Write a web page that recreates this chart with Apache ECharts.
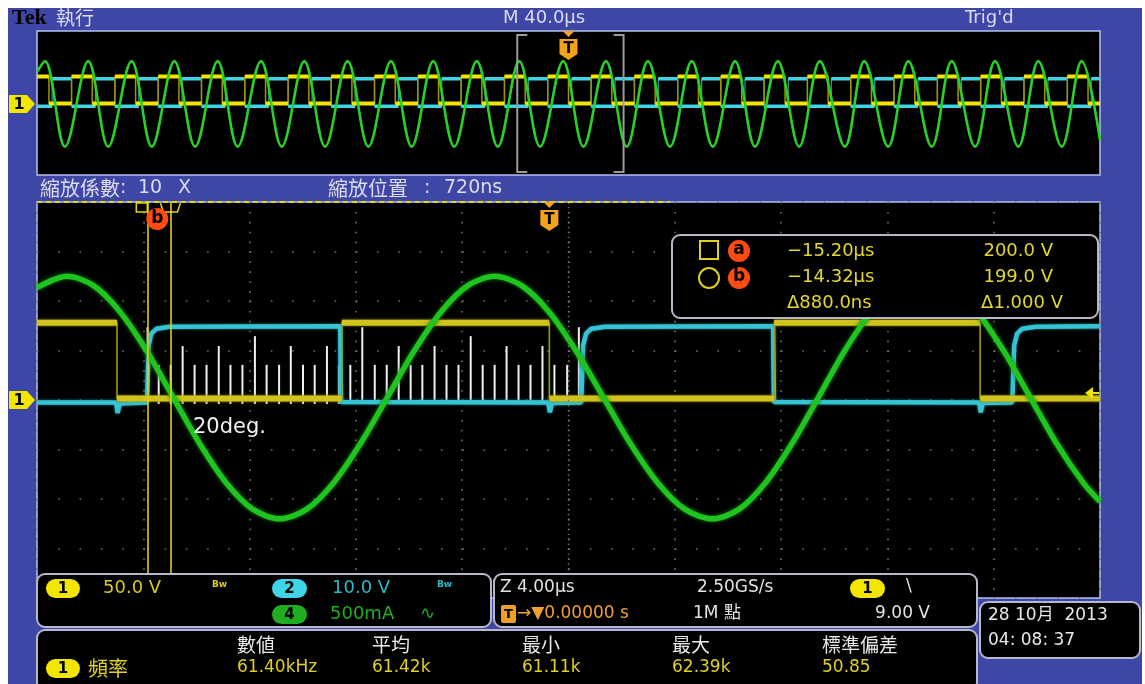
<!DOCTYPE html>
<html>
<head>
<meta charset="utf-8">
<title>Tek 執行</title>
<script src="https://cdn.jsdelivr.net/npm/echarts@6.0.0/dist/echarts.min.js"></script>
<style>
  html, body { margin: 0; padding: 0; background: #fff; }
  #main { width: 1145px; height: 684px; }
</style>
</head>
<body>
<div id="main"></div>
<script>
// ---- data (times in µs from trigger, levels in divisions, ch1 ground = 0) ----
var ovRange = [-200, 200];          // M 40.0µs/div
var mainRange = [-19.28, 20.72];    // Z 4.00µs/div, zoom position 720ns

var ch1Hi = 1.56, ch1Lo = 0.03;
var ch2Hi = 1.44, ch2Lo = -0.12;

// overview window edges
var ovCh1Fall = [-195.5, -179.2, -162.9, -146.6, -130.3, -114.0, -97.7, -81.5, -65.2, -48.9, -32.6, -16.3, 0,
                 16.3, 32.6, 48.9, 65.2, 81.5, 97.7, 114.0, 130.3, 146.6, 162.9, 179.2, 195.5];
var ovCh1Rise = [-187.0, -170.7, -154.4, -138.1, -121.8, -105.5, -89.3, -73.0, -56.7, -40.4, -24.1, -7.8,
                 8.5, 24.8, 41.1, 57.3, 73.6, 89.9, 106.2, 122.5, 138.8, 155.1, 171.4, 187.7];
var ovCh2Rise = [-194.3, -178.0, -161.7, -145.4, -129.1, -112.8, -96.5, -80.3, -64.0, -47.7, -31.4, -15.1, 1.2,
                 17.5, 33.8, 50.1, 66.4, 82.7, 98.9, 115.2, 131.5, 147.8, 164.1, 180.4, 196.7];
var ovCh2Fall = [-187.0, -170.7, -154.4, -138.1, -121.8, -105.5, -89.3, -73.0, -56.7, -40.4, -24.1, -7.8,
                 8.5, 24.8, 41.1, 57.3, 73.6, 89.9, 106.2, 122.5, 138.8, 155.1, 171.4, 187.7];
var ovGreenPeaks = [-197.0, -180.7, -164.4, -148.3, -132.0, -115.7, -99.4, -83.1, -66.8, -50.9, -34.5, -18.5, -2.0,
                    14.1, 29.9, 46.4, 62.7, 78.8, 94.6, 111.3, 127.9, 144.2, 160.5, 176.8, 193.1];
var ovGreenTroughs = [-189.5, -173.2, -156.8, -140.5, -124.5, -107.9, -91.6, -75.3, -59.0, -43.0, -26.6, -10.7,
                      5.6, 21.9, 38.2, 54.3, 70.2, 86.8, 104.0, 120.3, 136.7, 153.0, 169.3, 185.6];
var ovGreenPeak = 2.44, ovGreenTrough = -2.42;
var ovGreenStart = [-200, 1.82], ovGreenEnd = [200, -2.05];

// zoom window
var ch1Edges = [-16.27, -7.81, 0.0, 8.46, 16.21];   // first edge is falling
var cyanMain = [[-19.28, -0.05], [-16.30, -0.05], [-16.25, -0.26], [-16.16, -0.07], [-15.14, -0.05],
                [-15.08, 1.10], [-14.98, 1.34], [-14.78, 1.44], [-14.30, 1.48], [-7.87, 1.49], [-7.84, -0.04],
                [-0.04, -0.05], [0.02, -0.25], [0.10, -0.06], [1.20, -0.05], [1.27, 1.10], [1.38, 1.34],
                [1.58, 1.44], [2.10, 1.48], [8.42, 1.49], [8.45, -0.04], [16.18, -0.05], [16.23, -0.25],
                [16.31, -0.06], [17.42, -0.05], [17.49, 1.10], [17.60, 1.34], [17.80, 1.44], [18.30, 1.48],
                [20.72, 1.49]];
var greenMain = [[-19.28, 2.27], [-18.15, 2.50], [-17.15, 2.31], [-16.15, 1.78], [-15.15, 0.99], [-14.15, 0.05],
                 [-13.15, -0.89], [-12.15, -1.68], [-11.15, -2.21], [-10.15, -2.40], [-9.14, -2.21],
                 [-8.13, -1.68], [-7.12, -0.89], [-6.10, 0.05], [-5.09, 0.99], [-4.08, 1.78], [-3.07, 2.31],
                 [-2.06, 2.50], [-1.04, 2.31], [-0.01, 1.78], [1.01, 0.99], [2.04, 0.05], [3.06, -0.89],
                 [4.09, -1.68], [5.11, -2.21], [6.13, -2.40], [7.13, -2.21], [8.12, -1.68], [9.12, -0.89],
                 [10.12, 0.05], [11.11, 0.99], [12.11, 1.78], [13.10, 2.31], [14.10, 2.50], [15.10, 2.31],
                 [16.10, 1.78], [17.10, 0.99], [18.10, 0.05], [19.10, -0.89], [20.10, -1.68], [20.72, -2.05]];
var pulseTimes = [-15.12, -14.70, -14.25, -13.80, -13.35, -12.90, -12.44, -12.00, -11.55, -11.08, -10.64, -10.17,
                  -9.73, -9.27, -8.83, -8.37, -7.92, -7.49, -7.04, -6.57, -6.12, -5.67, -5.22, -4.78, -4.32,
                  -3.87, -3.42, -2.96, -2.51, -2.06, -1.61, -1.16, -0.71, -0.26, 0.19, 0.67, 1.11];
var pulseTops = [1.47, 0.71, 0.71, 1.09, 0.71, 0.71, 1.09, 0.71, 0.71, 1.29, 0.71, 0.71, 1.09, 0.71, 0.71, 1.09,
                 0.71, 0.71, 1.47, 0.71, 0.71, 1.09, 0.71, 0.71, 1.09, 0.71, 0.71, 1.29, 0.71, 0.71, 1.09, 0.71,
                 0.71, 1.09, 0.71, 0.71, 1.47];
var pulseBase = -0.08;
var cursorTimes = [-15.13, -14.26];

var FONT = '"DejaVu Sans", "Noto Sans CJK TC", sans-serif';
var CJK = '"Noto Sans CJK TC", "DejaVu Sans", sans-serif';

function byTime(a, b) { return a - b; }

function squareWave(edges, startHigh, hi, lo, t0, t1) {
  var pts = [], high = startHigh;
  pts.push([t0, high ? hi : lo]);
  edges.forEach(function (e) {
    pts.push([e, high ? hi : lo]);
    high = !high;
    pts.push([e, high ? hi : lo]);
  });
  pts.push([t1, high ? hi : lo]);
  return pts;
}
// keep only the flat parts, broken at every edge
function flatParts(pts) {
  var out = [];
  for (var i = 0; i + 1 < pts.length; i += 2) {
    out.push(pts[i], pts[i + 1], [pts[i + 1][0], '-']);
  }
  return out;
}

var ovCh1 = squareWave(ovCh1Fall.concat(ovCh1Rise).sort(byTime), true, ch1Hi, ch1Lo, ovRange[0], ovRange[1]);
var ovCh2 = squareWave(ovCh2Rise.concat(ovCh2Fall).sort(byTime), false, ch2Hi, ch2Lo, ovRange[0], ovRange[1]);
var ovGreen = ovGreenPeaks.map(function (t) { return [t, ovGreenPeak]; })
  .concat(ovGreenTroughs.map(function (t) { return [t, ovGreenTrough]; }))
  .sort(function (a, b) { return a[0] - b[0]; });
ovGreen.unshift(ovGreenStart);
ovGreen.push(ovGreenEnd);
var mainCh1 = squareWave(ch1Edges, true, ch1Hi, ch1Lo, mainRange[0], mainRange[1]);

function trace(name, xi, data, color, width, extra) {
  var s = {
    name: name, type: 'line', xAxisIndex: xi, yAxisIndex: xi === 0 ? 0 : 1,
    data: data, symbol: 'none', silent: true, animation: false,
    lineStyle: { color: color, width: width }
  };
  if (extra) for (var k in extra) s[k] = extra[k];
  return s;
}

var myChart = echarts.init(document.getElementById('main'));
myChart.setOption({
  backgroundColor: '#3e46a6',
  animation: false,
  grid: [
    { left: 37, top: 31, width: 1063, height: 144, show: true, backgroundColor: '#000',
      borderColor: '#b4c2ee', borderWidth: 1.5, outerBoundsMode: 'none' },
    { left: 37, top: 202, width: 1063, height: 396, show: true, backgroundColor: '#000',
      borderColor: '#b4c2ee', borderWidth: 1.5, outerBoundsMode: 'none' }
  ],
  xAxis: [
    { gridIndex: 0, type: 'value', min: ovRange[0], max: ovRange[1], show: false },
    { gridIndex: 1, type: 'value', min: mainRange[0], max: mainRange[1], show: false },
    { gridIndex: 1, type: 'value', min: -5, max: 5, interval: 1,
      axisLine: { show: false }, axisTick: { show: false }, axisLabel: { show: false },
      splitLine: { show: true, lineStyle: { color: '#707070', width: 1.6, type: [1.6, 8.3] } } }
  ],
  yAxis: [
    { gridIndex: 0, type: 'value', min: -4.03, max: 4.15, show: false },
    { gridIndex: 1, type: 'value', min: -4, max: 4, interval: 1,
      axisLine: { show: false }, axisTick: { show: false }, axisLabel: { show: false },
      splitLine: { show: true, lineStyle: { color: '#707070', width: 1.6, type: [1.6, 19.66] } } }
  ],
  series: [
    // overview
    trace('ov ch2 edges', 0, ovCh2, '#2a9aa8', 1.2),
    trace('ov ch2', 0, flatParts(ovCh2), '#3ed6e6', 3.5),
    trace('ov ch1 edges', 0, ovCh1, '#a29400', 1.5),
    trace('ov ch1', 0, flatParts(ovCh1), '#f3e500', 4),
    trace('ov ch4', 0, ovGreen, '#27d127', 2.6, { smooth: 0.36 }),
    // zoom window
    trace('ch2', 1, cyanMain, '#36c4d4', 4.5, { lineStyle: { color: '#36c4d4', width: 4.5, shadowBlur: 3, shadowColor: '#1b7f8a' } }),
    trace('ch1 edges', 1, mainCh1, '#a49c10', 1.6),
    trace('ch1', 1, flatParts(mainCh1), '#d0c31c', 6, { lineStyle: { color: '#d0c31c', width: 6, shadowBlur: 3, shadowColor: '#847a00' } }),
    {
      name: 'pulses', type: 'custom', xAxisIndex: 1, yAxisIndex: 1, silent: true, animation: false,
      data: pulseTimes.map(function (t, i) { return [t, pulseTops[i]]; }),
      renderItem: function (params, api) {
        var p0 = api.coord([api.value(0), pulseBase]);
        var p1 = api.coord([api.value(0), api.value(1)]);
        return { type: 'line', shape: { x1: p0[0], y1: p0[1], x2: p1[0], y2: p1[1] },
                 style: { stroke: '#f0f0f0', lineWidth: 2 } };
      }
    },
    trace('ch4', 1, greenMain, '#1fc41f', 5.5, {
      smooth: 0.3,
      lineStyle: { color: '#1fc41f', width: 5.5, shadowBlur: 4, shadowColor: '#0c7a0c' },
      markLine: {
        silent: true, animation: false, symbol: ['none', 'none'], label: { show: false },
        lineStyle: { color: '#dccf12', width: 1.6, type: 'solid' },
        data: cursorTimes.map(function (t) { return { xAxis: t }; })
      }
    })
  ]
});

// ---- screen decorations ----
var trigOvX = myChart.convertToPixel({ xAxisIndex: 0 }, 0);
var trigMainX = myChart.convertToPixel({ xAxisIndex: 1 }, 0);
var centerX = myChart.convertToPixel({ xAxisIndex: 2 }, 0);
var brL = myChart.convertToPixel({ xAxisIndex: 0 }, mainRange[0]);
var brR = myChart.convertToPixel({ xAxisIndex: 0 }, mainRange[1]);
var curX = cursorTimes.map(function (t) { return myChart.convertToPixel({ xAxisIndex: 1 }, t); });

function txt(x, y, s, fill, size, o) {
  o = o || {};
  return {
    type: 'text', x: x, y: y, z: o.z || 60, silent: true,
    style: { text: s, fill: fill, font: (o.weight ? o.weight + ' ' : '') + size + 'px ' + (o.family || FONT),
             align: o.align || 'left', verticalAlign: 'middle' }
  };
}
function pill(x, y, w, h, fill, label) {
  return [
    { type: 'rect', z: 60, silent: true, shape: { x: x, y: y, width: w, height: h, r: h / 2 }, style: { fill: fill } },
    txt(x + w / 2, y + h / 2 + 1, label, '#000', 15, { weight: 'bold', align: 'center', z: 61 })
  ];
}
function panel(x, y, w, h, z) {
  return { type: 'rect', z: z || 50, silent: true, shape: { x: x, y: y, width: w, height: h, r: 8 },
           style: { fill: '#000', stroke: '#b8b8c8', lineWidth: 2 } };
}
function trigMarker(cx, top) {
  return [
    { type: 'polygon', z: 30, silent: true, shape: { points: [[cx - 6, top], [cx + 6, top], [cx, top + 6]] },
      style: { fill: '#f3a21c' } },
    { type: 'polygon', z: 30, silent: true,
      shape: { points: [[cx - 9, top + 8], [cx + 9, top + 8], [cx + 9, top + 23], [cx, top + 29], [cx - 9, top + 23]] },
      style: { fill: '#f3a21c' } },
    txt(cx, top + 18, 'T', '#000', 15, { weight: 'bold', align: 'center', z: 31 })
  ];
}
function chMarker(y) {
  return [
    { type: 'polygon', z: 30, silent: true,
      shape: { points: [[9, y - 9], [27, y - 9], [35, y], [27, y + 9], [9, y + 9]] }, style: { fill: '#f2e600' } },
    txt(19, y + 1, '1', '#000', 16, { weight: 'bold', align: 'center', z: 31 })
  ];
}

var g = [];
// white paper margins
g.push({ type: 'rect', z: 100, silent: true, shape: { x: 0, y: 0, width: 1145, height: 8 }, style: { fill: '#fff' } });
g.push({ type: 'rect', z: 100, silent: true, shape: { x: 0, y: 0, width: 8, height: 684 }, style: { fill: '#fff' } });
g.push({ type: 'rect', z: 100, silent: true, shape: { x: 1142, y: 0, width: 3, height: 684 }, style: { fill: '#fff' } });

// header
g.push(txt(12, 18, 'Tek', '#000', 22, { weight: 'bold', family: '"Liberation Serif", serif' }));
g.push(txt(56, 18, '執行', '#dcdcec', 19, { family: CJK }));
g.push(txt(503, 18, 'M 40.0µs', '#dcdcec', 18));
g.push(txt(965, 18, "Trig'd", '#dcdcec', 18));
// zoom factor / position line (wide monospaced look of the scope font)
g.push(txt(40, 188, '縮放係數', '#dcdcec', 20, { family: CJK }));
g.push(txt(120, 188, ':', '#dcdcec', 19));
g.push(txt(138, 188, '10', '#dcdcec', 19));
g.push(txt(178, 188, 'X', '#dcdcec', 19));
g.push(txt(328, 188, '縮放位置', '#dcdcec', 20, { family: CJK }));
g.push(txt(424, 188, ':', '#dcdcec', 19));
g.push(txt(444, 188, '720ns', '#dcdcec', 19));

// overview bracket + trigger
g.push({ type: 'polyline', z: 20, silent: true,
  shape: { points: [[brL + 10, 35], [brL, 35], [brL, 172], [brL + 10, 172]] },
  style: { stroke: '#9c9c9c', lineWidth: 2, fill: null } });
g.push({ type: 'polyline', z: 20, silent: true,
  shape: { points: [[brR - 10, 35], [brR, 35], [brR, 172], [brR - 10, 172]] },
  style: { stroke: '#9c9c9c', lineWidth: 2, fill: null } });
g = g.concat(trigMarker(trigOvX, 31));
g = g.concat(chMarker(104));

// zoom window decorations
g.push({ type: 'line', z: 8, silent: true, shape: { x1: centerX, y1: 202, x2: centerX, y2: 598 },
  style: { stroke: '#757575', lineWidth: 1.4, lineDash: [1.4, 3.55] } });
g.push({ type: 'line', z: 25, silent: true, shape: { x1: 37, y1: 202, x2: 670, y2: 202 },
  style: { stroke: '#e6d800', lineWidth: 2, lineDash: [5, 4] } });
g = g.concat(trigMarker(trigMainX, 202));
g = g.concat(chMarker(400));
// cursor handles
g.push({ type: 'rect', z: 26, silent: true, shape: { x: curX[0] - 11, y: 203, width: 11, height: 9 },
  style: { fill: null, stroke: '#e6d800', lineWidth: 1.5 } });
g.push({ type: 'polyline', z: 26, silent: true,
  shape: { points: [[curX[1] - 10, 203], [curX[1] - 7, 212], [curX[1] + 7, 212], [curX[1] + 10, 203]] },
  style: { fill: null, stroke: '#e6d800', lineWidth: 1.5 } });
g.push({ type: 'circle', z: 27, silent: true, shape: { cx: curX[0] + 10, cy: 219, r: 11 }, style: { fill: '#ff4a12' } });
g.push(txt(curX[0] + 10, 219, 'b', '#000', 17, { weight: 'bold', align: 'center', z: 28 }));
// trigger level arrow on the right
g.push({ type: 'polygon', z: 26, silent: true, shape: { points: [[1085, 393], [1093, 387], [1093, 399]] },
  style: { fill: '#f2e600' } });
g.push({ type: 'line', z: 26, silent: true, shape: { x1: 1092, y1: 393, x2: 1099, y2: 393 },
  style: { stroke: '#f2e600', lineWidth: 2 } });
g.push(txt(193, 428, '20deg.', '#f2f2f2', 21));

// cursor readout box
g.push(panel(672, 235, 426, 83, 20));
g.push({ type: 'rect', z: 60, silent: true, shape: { x: 700, y: 241, width: 18, height: 18 },
  style: { fill: null, stroke: '#e0d020', lineWidth: 2 } });
g.push({ type: 'circle', z: 60, silent: true, shape: { cx: 709, cy: 278, r: 10 },
  style: { fill: null, stroke: '#e0d020', lineWidth: 2 } });
g.push({ type: 'circle', z: 60, silent: true, shape: { cx: 739, cy: 251, r: 11 }, style: { fill: '#ff4a12' } });
g.push(txt(739, 250, 'a', '#000', 17, { weight: 'bold', align: 'center', z: 61 }));
g.push({ type: 'circle', z: 60, silent: true, shape: { cx: 739, cy: 278, r: 11 }, style: { fill: '#ff4a12' } });
g.push(txt(739, 277, 'b', '#000', 17, { weight: 'bold', align: 'center', z: 61 }));
g.push(txt(787, 251, '−15.20µs', '#e4d630', 18));
g.push(txt(1053, 251, '200.0 V', '#e4d630', 18, { align: 'right' }));
g.push(txt(787, 277, '−14.32µs', '#e4d630', 18));
g.push(txt(1053, 277, '199.0 V', '#e4d630', 18, { align: 'right' }));
g.push(txt(787, 303, 'Δ880.0ns', '#e4d630', 18));
g.push(txt(1063, 303, 'Δ1.000 V', '#e4d630', 18, { align: 'right' }));

// channel panel
g.push(panel(37, 574, 454, 53));
g = g.concat(pill(46, 579, 34, 19, '#f2e600', '1'));
g.push(txt(103, 588, '50.0 V', '#d8c820', 18));
g.push(txt(212, 585, 'Bw', '#d8c820', 9, { weight: 'bold' }));
g = g.concat(pill(272, 579, 35, 19, '#3ed6e6', '2'));
g.push(txt(332, 588, '10.0 V', '#2fb8c8', 18));
g.push(txt(437, 585, 'Bw', '#2fb8c8', 9, { weight: 'bold' }));
g = g.concat(pill(272, 605, 35, 19, '#1fae1f', '4'));
g.push(txt(330, 614, '500mA', '#1fae1f', 18));
g.push(txt(420, 614, '∿', '#1fae1f', 18));

// timebase / trigger panel
g.push(panel(494, 574, 483, 53));
g.push(txt(500, 588, 'Z 4.00µs', '#e2e2e2', 17));
g.push(txt(697, 588, '2.50GS/s', '#e2e2e2', 17));
g = g.concat(pill(850, 579, 35, 19, '#f2e600', '1'));
g.push(txt(906, 587, '\\', '#e2e2e2', 17));
g.push({ type: 'rect', z: 60, silent: true, shape: { x: 501, y: 605, width: 15, height: 18, r: 2 }, style: { fill: '#f0a020' } });
g.push(txt(508.5, 615, 'T', '#000', 13, { weight: 'bold', align: 'center', z: 61 }));
g.push(txt(517, 614, '→▼0.00000 s', '#f0a030', 17));
g.push(txt(693, 614, '1M 點', '#e2e2e2', 17));
g.push(txt(930, 614, '9.00 V', '#e2e2e2', 17, { align: 'right' }));

// measurement panel
g.push(panel(37, 630, 940, 60));
g = g.concat(pill(46, 659, 34, 19, '#f2e600', '1'));
g.push(txt(88, 668, '頻率', '#e0d020', 20, { family: CJK }));
var headX = [237, 372, 522, 672, 822];
['數値', '平均', '最小', '最大', '標準偏差'].forEach(function (h, i) {
  g.push(txt(headX[i], 645, h, '#e8e8e8', 19, { family: CJK }));
});
['61.40kHz', '61.42k', '61.11k', '62.39k', '50.85'].forEach(function (v, i) {
  g.push(txt(headX[i], 668, v, '#e0d020', 17));
});

// date box
g.push(panel(980, 602, 160, 56));
g.push(txt(988, 616, '28 10月  2013', '#e8e8e8', 17));
g.push(txt(988, 641, '04: 08: 37', '#e8e8e8', 17));

myChart.setOption({ graphic: g });
</script>
</body>
</html>
